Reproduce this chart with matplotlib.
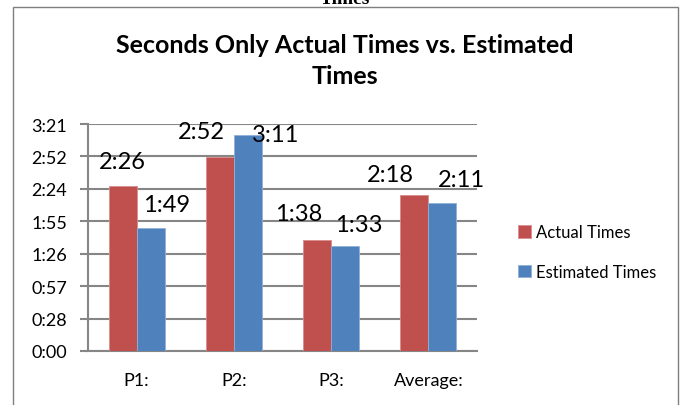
import matplotlib.pyplot as plt
from matplotlib.patches import Rectangle
import numpy as np

# 데이터 (초 단위)
categories = ['P1:', 'P2:', 'P3:', 'Average:']
actual = [146, 172, 98, 138]
estimated = [109, 191, 93, 131]
actual_labels = ['2:26', '2:52', '1:38', '2:18']
estimated_labels = ['1:49', '3:11', '1:33', '2:11']
tick_labels = ['0:00', '0:28', '0:57', '1:26', '1:55', '2:24', '2:52', '3:21']
y_max = 201

red = '#C0504D'
blue = '#4F81BD'
grid_c = '#868686'

plt.rcParams['font.family'] = ['Lato', 'DejaVu Sans']

fig = plt.figure(figsize=(6.86, 4.06), dpi=100)
ax = fig.add_axes([88/686, 1-352/406, (477-88)/686, (352-125)/406])

x = np.arange(len(categories))
w = 0.288
b1 = ax.bar(x - w/2, actual, w, color=red, edgecolor='#d98c8a', linewidth=0.6, label='Actual Times', zorder=3)
b2 = ax.bar(x + w/2, estimated, w, color=blue, edgecolor='#8fb0d8', linewidth=0.6, label='Estimated Times', zorder=3)

# 라벨 위치 조정 (픽셀)
act_off = [(0, 18), (-18, 19), (-18, 20), (-24, 14)]
est_off = [(16, 17), (28, -6), (14, 15), (19, 17)]
for i in range(len(categories)):
    ax.annotate(actual_labels[i], (x[i] - w/2, actual[i]), xytext=act_off[i],
                textcoords='offset pixels', ha='center', va='baseline', fontsize=17, zorder=5)
    ax.annotate(estimated_labels[i], (x[i] + w/2, estimated[i]), xytext=est_off[i],
                textcoords='offset pixels', ha='center', va='baseline', fontsize=17, zorder=5)

yt = [y_max * i / 7 for i in range(8)]
ax.set_yticks(yt)
ax.set_yticklabels(tick_labels)
ax.set_ylim(0, y_max)
ax.set_xlim(-0.5, len(categories) - 0.5)
ax.set_xticks(x)
ax.set_xticklabels(categories)
ax.yaxis.grid(True, color=grid_c, linewidth=1.5, zorder=0)
ax.tick_params(axis='y', length=6, width=1.5, color=grid_c, pad=9, labelsize=13)
ax.tick_params(axis='x', length=0, pad=15, labelsize=13)
for s in ['top', 'right']:
    ax.spines[s].set_visible(False)
for s in ['left', 'bottom']:
    ax.spines[s].set_color(grid_c)
    ax.spines[s].set_linewidth(1.5)

fig.legend(handles=[b1, b2], loc='center left', bbox_to_anchor=(503/686, 1-253/406),
           frameon=False, fontsize=12, handlelength=0.8, handleheight=0.8,
           handletextpad=0.3, labelspacing=1.4)

fig.text(0.503, 1-61/406, 'Seconds Only Actual Times vs. Estimated\nTimes', ha='center', va='center',
         fontsize=18, fontweight='bold', linespacing=1.42)

# 위에 잘린 글자
fig.text(0.503, 1-4/406, 'Times', ha='center', va='baseline', fontsize=14,
         fontweight='bold', family='Liberation Serif')

# 테두리
fig.patches.append(Rectangle((13/686, -0.1), (678-13)/686, 1.1 - 8/406, transform=fig.transFigure,
                             fill=False, edgecolor='#7f7f7f', linewidth=1))

fig.savefig('out.png', dpi=100)
